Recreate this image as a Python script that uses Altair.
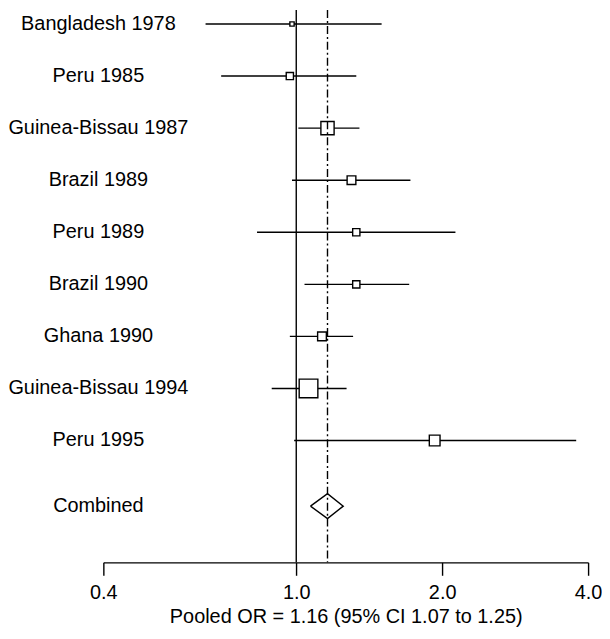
import altair as alt
import pandas as pd

# ---- data ----
studies = ["Bangladesh 1978", "Peru 1985", "Guinea-Bissau 1987", "Brazil 1989",
           "Peru 1989", "Brazil 1990", "Ghana 1990", "Guinea-Bissau 1994", "Peru 1995"]
odds_ratio = [0.98, 0.97, 1.16, 1.30, 1.33, 1.33, 1.13, 1.06, 1.93]
ci_low = [0.65, 0.70, 1.01, 0.98, 0.83, 1.04, 0.97, 0.89, 0.99]
ci_high = [1.50, 1.33, 1.35, 1.72, 2.13, 1.71, 1.31, 1.27, 3.78]
weight = [1.9, 5.4, 18.1, 7.9, 5.4, 5.4, 7.9, 36.1, 11.9]  # % weight (box area)

pooled_or = 1.16
pooled_low = 1.07
pooled_high = 1.25
combined_label = "Combined"
x_ticks = [0.4, 1.0, 2.0, 4.0]
x_title = "Pooled OR = 1.16 (95% CI 1.07 to 1.25)"

# ---- tables ----
n = len(studies)
combined_row = n + 0.26
df = pd.DataFrame({
    "study": studies, "or": odds_ratio, "lo": ci_low, "hi": ci_high,
    "w": weight, "row": list(range(n)),
})
labels = pd.DataFrame({"label": studies + [combined_label],
                       "row": list(range(n)) + [combined_row]})
half_h = 0.24
diamond = pd.DataFrame({
    "x": [pooled_low, pooled_or, pooled_high, pooled_or, pooled_low],
    "row": [combined_row, combined_row - half_h, combined_row, combined_row + half_h, combined_row],
    "ord": [0, 1, 2, 3, 4],
})
refs = pd.DataFrame({"x": [1.0]})
pooled = pd.DataFrame({"x": [pooled_or]})

FONT = "Liberation Sans"
SW = 1.4
xscale = alt.Scale(type="log", domain=[0.4, 4.0], nice=False, zero=False)
yscale = alt.Scale(domain=[-0.267, 10.34], reverse=True, nice=False, zero=False)

xaxis = alt.Axis(values=x_ticks, format=".1f", tickSize=13, tickColor="black",
                 domainColor="black", tickWidth=SW, domainWidth=SW, grid=False,
                 labelFontSize=20, labelFont=FONT, labelColor="black", labelPadding=7,
                 labelFlush=False, title=x_title, titleFontSize=20, titleFont=FONT,
                 titleFontWeight="normal", titleColor="black", titlePadding=5)


def X(field):
    return alt.X(field, scale=xscale, axis=xaxis, title=x_title)


def Y(field):
    return alt.Y(field, scale=yscale, axis=None)


null_line = alt.Chart(refs).mark_rule(color="black", strokeWidth=SW).encode(x=X("x:Q"))

ci = alt.Chart(df).mark_rule(color="black", strokeWidth=SW).encode(
    x=X("lo:Q"), x2="hi:Q", y=Y("row:Q"))

boxes = alt.Chart(df).mark_point(shape="square", filled=False, fill="white",
                                  fillOpacity=1, stroke="black", strokeWidth=SW,
                                  opacity=1).encode(
    x=X("or:Q"), y=Y("row:Q"),
    size=alt.Size("w:Q", scale=alt.Scale(domain=[0, 100], range=[0, 978]), legend=None))

pooled_line = alt.Chart(pooled).mark_rule(color="black", strokeWidth=SW,
                                          strokeDash=[8, 3, 2, 3]).encode(x=X("x:Q"))

dia = alt.Chart(diamond).mark_line(color="black", strokeWidth=SW).encode(
    x=X("x:Q"), y=Y("row:Q"), order="ord:Q")

text = alt.Chart(labels).mark_text(align="center", baseline="middle", fontSize=20,
                                   font=FONT, color="black").encode(
    x=alt.value(-5), y=Y("row:Q"), text="label:N")

chart = alt.layer(null_line, ci, boxes, pooled_line, dia, text).properties(
    width=488, height=556,
    background="white",
    autosize=alt.AutoSizeParams(type="none"),
    padding={"left": 96, "right": 14, "top": 0, "bottom": 67},
).configure_view(stroke=None)

chart.save("out.html", embed_options={"renderer": "svg", "actions": False})
